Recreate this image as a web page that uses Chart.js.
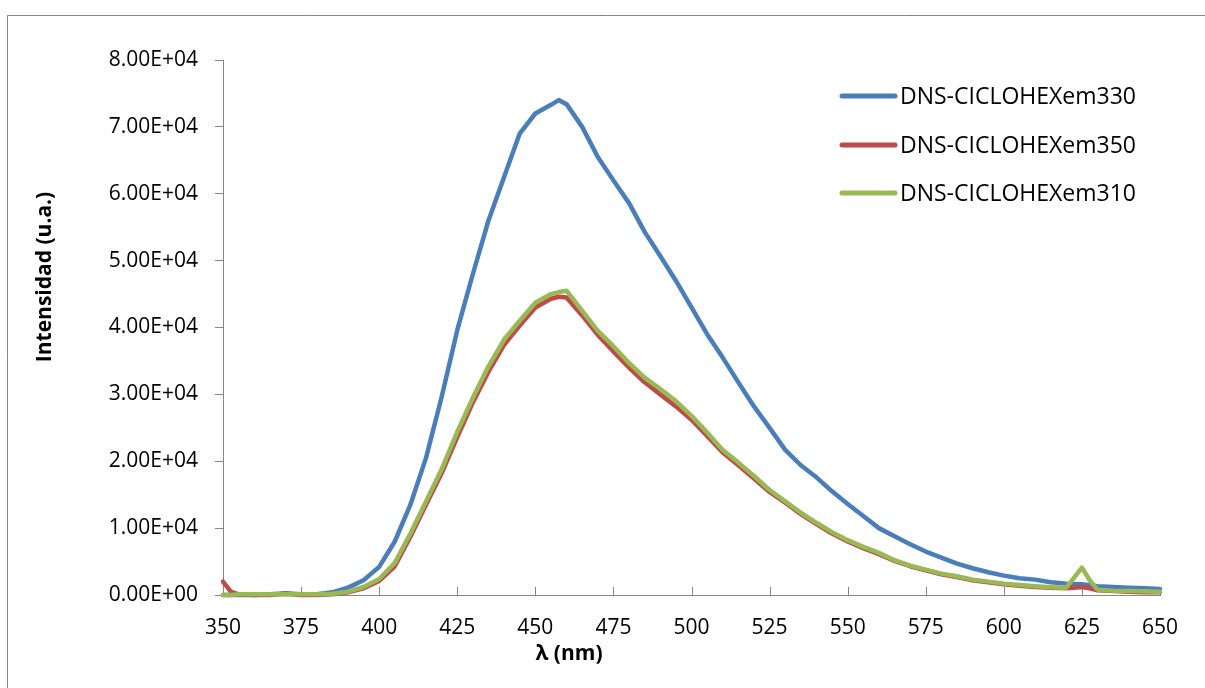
<!DOCTYPE html>
<html>
<head>
<meta charset="utf-8">
<title>DNS-CICLOHEX emission</title>
<script src="https://cdn.jsdelivr.net/npm/chart.js@4.4.1/dist/chart.umd.min.js"></script>
<style>
html, body { margin: 0; padding: 0; background: #fff; }
#wrap { width: 1205px; height: 688px; position: relative; }
</style>
</head>
<body>
<div id="wrap"><canvas id="spectraChart"></canvas></div>
<script>
// wavelength (nm) and intensity (u.a.)
const wavelengths = [350, 352.5, 355, 360, 365, 370, 375, 380, 385, 390, 395, 400, 405, 410, 415, 420, 425, 430, 435, 440, 445, 450, 455, 457.5,
  460, 465, 470, 475, 480, 485, 490, 495, 500, 505, 510, 515, 520, 525, 530, 535, 540, 545, 550, 555, 560, 565, 570, 575, 580, 585, 590, 595, 600,
  605, 610, 615, 620, 622.5, 625, 627.5, 630, 635, 640, 645, 650];

const em330 = [0, 0, 0, 0, 100, 250, 100, 100, 400, 1100, 2200, 4200, 8000, 13500, 20500, 29600, 39600, 48000, 56000, 62500, 69000, 72000, 73300, 74000,
  73400, 70000, 65500, 62000, 58600, 54300, 50700, 47000, 43000, 39000, 35500, 31800, 28200, 25000, 21700, 19400, 17600, 15500, 13600, 11800, 10000, 8800, 7600, 6500, 5600, 4700, 4000, 3400, 2900,
  2500, 2300, 1900, 1700, 1650, 1600, 1450, 1300, 1200, 1100, 1000, 900];

const em350 = [2000, 500, 100, 0, 0, 200, 0, 0, 100, 400, 1000, 2100, 4300, 8700, 13500, 18200, 23600, 28800, 33400, 37400, 40300, 43000, 44300, 44600,
  44500, 41800, 38900, 36400, 34000, 31800, 30000, 28200, 26200, 23800, 21300, 19400, 17400, 15400, 13800, 12100, 10600, 9200, 8000, 7000, 6100, 5100, 4300, 3700, 3100, 2700, 2200, 1900, 1600,
  1400, 1200, 1100, 1000, 1100, 1200, 1000, 700, 600, 500, 400, 400];

const em310 = [0, 0, 100, 100, 100, 100, 100, 100, 200, 500, 1200, 2400, 4800, 9200, 14000, 18800, 24400, 29500, 34200, 38200, 41000, 43700, 45000, 45300,
  45500, 42500, 39500, 37200, 34700, 32500, 30800, 29000, 26800, 24300, 21700, 19800, 17800, 15700, 14000, 12300, 10800, 9400, 8200, 7200, 6300, 5200, 4400, 3800, 3200, 2800, 2300, 2000, 1700,
  1500, 1300, 1150, 1100, 2600, 4100, 2200, 800, 650, 600, 550, 500];

const seriesNames = ['DNS-CICLOHEXem330', 'DNS-CICLOHEXem350', 'DNS-CICLOHEXem310'];
const seriesColors = ['#4A7EBB', '#BE4B48', '#98B954'];

const xTickValues = [350, 375, 400, 425, 450, 475, 500, 525, 550, 575, 600, 625, 650];
const yTickValues = [0, 10000, 20000, 30000, 40000, 50000, 60000, 70000, 80000];

const xTitle = 'λ (nm)';
const yTitle = 'Intensidad (u.a.)';

const FONT = "'Open Sans', 'DejaVu Sans', sans-serif";
const AXIS_GREY = '#868686';

function toPoints(values) {
  return wavelengths.map((w, i) => ({ x: w, y: values[i] }));
}

// 8.00E+04 style labels like Excel
function sci(v) {
  if (v === 0) return '0.00E+00';
  const parts = v.toExponential(2).split('e');
  const n = parseInt(parts[1], 10);
  return parts[0] + 'E' + (n < 0 ? '-' : '+') + String(Math.abs(n)).padStart(2, '0');
}

const excelDecor = {
  id: 'excelDecor',
  beforeDatasetsDraw(chart) {
    // x tick marks point into the plot
    const ctx = chart.ctx;
    const xs = chart.scales.x;
    const bottom = chart.chartArea.bottom;
    ctx.save();
    ctx.strokeStyle = AXIS_GREY;
    ctx.lineWidth = 1;
    xTickValues.forEach(v => {
      const px = Math.round(xs.getPixelForValue(v)) + 0.5;
      ctx.beginPath();
      ctx.moveTo(px, bottom);
      ctx.lineTo(px, bottom - 8);
      ctx.stroke();
    });
    ctx.restore();
  },
  afterDraw(chart) {
    const ctx = chart.ctx;
    ctx.save();

    // outer frame
    ctx.strokeStyle = AXIS_GREY;
    ctx.lineWidth = 1;
    ctx.beginPath();
    ctx.moveTo(7.5, 700);
    ctx.lineTo(7.5, 15.5);
    ctx.lineTo(1210, 15.5);
    ctx.stroke();

    // axis titles
    ctx.fillStyle = '#000';
    ctx.font = 'bold 21px ' + FONT;
    ctx.textAlign = 'center';
    ctx.textBaseline = 'middle';
    ctx.fillText(xTitle, 569, 654);
    ctx.translate(45, 277);
    ctx.rotate(-Math.PI / 2);
    ctx.fillText(yTitle, 0, 0);
    ctx.setTransform(1, 0, 0, 1, 0, 0);

    // legend
    const rows = [96, 145, 193];
    ctx.font = '23px ' + FONT;
    ctx.textAlign = 'left';
    chart.data.datasets.forEach((ds, i) => {
      ctx.strokeStyle = ds.borderColor;
      ctx.lineWidth = 5;
      ctx.lineCap = 'round';
      ctx.beginPath();
      ctx.moveTo(842, rows[i]);
      ctx.lineTo(895, rows[i]);
      ctx.stroke();
      ctx.fillStyle = '#000';
      ctx.fillText(ds.label, 900, rows[i] + 1);
    });
    ctx.restore();
  }
};

const ctx = document.getElementById('spectraChart').getContext('2d');

const spectraChart = new Chart(ctx, {
  type: 'line',
  data: {
    datasets: [
      { label: seriesNames[0], data: toPoints(em330), borderColor: seriesColors[0], order: 2 },
      { label: seriesNames[1], data: toPoints(em350), borderColor: seriesColors[1], order: 1 },
      { label: seriesNames[2], data: toPoints(em310), borderColor: seriesColors[2], order: 0 }
    ]
  },
  options: {
    responsive: true,
    maintainAspectRatio: false,
    animation: false,
    devicePixelRatio: 1,
    datasets: {
      line: {
        borderWidth: 4.5,
        pointRadius: 0,
        tension: 0,
        fill: false,
        borderCapStyle: 'round',
        borderJoinStyle: 'round',
        clip: 8
      }
    },
    layout: {
      padding: { left: 0, right: 45, top: 60, bottom: 0 }
    },
    plugins: {
      legend: { display: false },
      tooltip: { enabled: false }
    },
    scales: {
      x: {
        type: 'linear',
        min: 350,
        max: 650,
        afterBuildTicks: scale => { scale.ticks = xTickValues.map(v => ({ value: v })); },
        afterFit: scale => { scale.height = 93; },
        grid: { drawOnChartArea: false, drawTicks: false },
        border: { display: true, color: AXIS_GREY, width: 1 },
        ticks: {
          color: '#000',
          font: { family: FONT, size: 21 },
          padding: 20,
          maxRotation: 0,
          autoSkip: false
        }
      },
      y: {
        min: 0,
        max: 80000,
        afterBuildTicks: scale => { scale.ticks = yTickValues.map(v => ({ value: v })); },
        afterFit: scale => { scale.width = 223; },
        grid: { drawOnChartArea: false, drawTicks: true, tickLength: 8, color: AXIS_GREY },
        border: { display: true, color: AXIS_GREY, width: 1 },
        ticks: {
          color: '#000',
          font: { family: FONT, size: 21 },
          padding: 17,
          callback: v => sci(v)
        }
      }
    }
  },
  plugins: [excelDecor]
});
</script>
</body>
</html>
